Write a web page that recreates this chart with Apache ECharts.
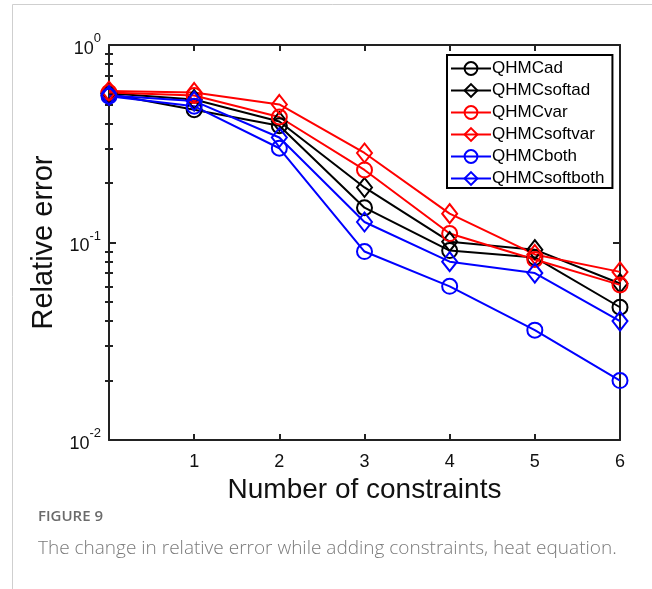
<!DOCTYPE html>
<html>
<head>
<meta charset="utf-8">
<title>Relative error vs constraints</title>
<script src="https://cdn.jsdelivr.net/npm/echarts@6/dist/echarts.min.js"></script>
<style>
  html, body { margin: 0; padding: 0; background: #fff; }
  #chart { width: 652px; height: 589px; }
</style>
</head>
<body>
<div id="chart"></div>
<script>
// Number of constraints on the x axis
const constraints = [0, 1, 2, 3, 4, 5, 6];

// Relative error for each method
const qhmcAd       = [0.565, 0.47, 0.39, 0.150, 0.091, 0.084, 0.047];
const qhmcSoftAd   = [0.570, 0.53, 0.41, 0.190, 0.101, 0.092, 0.062];
const qhmcVar      = [0.575, 0.555, 0.432, 0.233, 0.111, 0.082, 0.061];
const qhmcSoftVar  = [0.585, 0.575, 0.50, 0.284, 0.140, 0.087, 0.071];
const qhmcBoth     = [0.550, 0.49, 0.30, 0.090, 0.060, 0.036, 0.020];
const qhmcSoftBoth = [0.555, 0.52, 0.34, 0.127, 0.080, 0.070, 0.040];

const seriesNames = ['QHMCad', 'QHMCsoftad', 'QHMCvar', 'QHMCsoftvar', 'QHMCboth', 'QHMCsoftboth'];
const seriesData = [qhmcAd, qhmcSoftAd, qhmcVar, qhmcSoftVar, qhmcBoth, qhmcSoftBoth];
const seriesColors = ['#000000', '#000000', '#ff0000', '#ff0000', '#0000ff', '#0000ff'];
const seriesSymbols = ['circle', 'diamond', 'circle', 'diamond', 'circle', 'diamond'];

// Log axis tick positions
const majorTicks = [0.01, 0.1, 1];
const minorTicks = [0.02, 0.03, 0.04, 0.05, 0.06, 0.07, 0.08, 0.09,
                    0.2, 0.3, 0.4, 0.5, 0.6, 0.7, 0.8, 0.9];
const xTicks = [1, 2, 3, 4, 5, 6];

const AX = '#222222';
const FONT = '"Liberation Sans", Arial, Helvetica, sans-serif';

const chart = echarts.init(document.getElementById('chart'), null, { renderer: 'canvas' });

function logAxis(opts) {
  return Object.assign({
    type: 'log',
    logBase: 10,
    min: 0.01,
    max: 1,
    splitLine: { show: false },
    axisLine: { show: false },
    axisLabel: { show: false },
    axisTick: { show: false }
  }, opts);
}

const series = seriesNames.map((name, i) => ({
  name: name,
  type: 'line',
  data: constraints.map((c, j) => [c, seriesData[i][j]]),
  symbol: seriesSymbols[i],
  symbolSize: seriesSymbols[i] === 'circle' ? 15 : [15, 19],
  showSymbol: true,
  color: seriesColors[i],
  lineStyle: { color: seriesColors[i], width: 2 },
  itemStyle: { color: 'rgba(255,255,255,0)', borderColor: seriesColors[i], borderWidth: 2 },
  emphasis: { disabled: true },
  z: 3
}));

chart.setOption({
  animation: false,
  backgroundColor: '#ffffff',
  textStyle: { fontFamily: FONT },
  grid: {
    left: 109, right: 32, top: 45, bottom: 149,
    containLabel: false,
    outerBoundsMode: 'none'
  },
  legend: {
    orient: 'vertical',
    left: 447,
    top: 55,
    width: 165,
    padding: [5, 8, 1, 3],
    itemWidth: 40,
    itemHeight: 16,
    itemGap: 5,
    backgroundColor: '#ffffff',
    borderColor: '#000000',
    borderWidth: 2,
    textStyle: { fontSize: 17, lineHeight: 16, color: '#000000', fontFamily: FONT, padding: [0, 0, 0, -4] },
    data: seriesNames
  },
  xAxis: [
    {
      type: 'value',
      position: 'bottom',
      min: 0, max: 6, interval: 1,
      name: 'Number of constraints',
      nameLocation: 'middle',
      nameGap: 36,
      nameTextStyle: { fontSize: 28, color: '#111', fontFamily: FONT },
      axisLine: { show: true, onZero: false, lineStyle: { color: AX, width: 2 } },
      axisTick: { show: true, inside: true, length: 6, lineStyle: { color: AX, width: 2 },
                  customValues: xTicks },
      axisLabel: { show: true, fontSize: 18, color: '#111', margin: 13,
                   customValues: xTicks },
      splitLine: { show: false }
    },
    {
      type: 'value',
      position: 'top',
      min: 0, max: 6, interval: 1,
      axisLine: { show: true, onZero: false, lineStyle: { color: AX, width: 2 } },
      axisTick: { show: true, inside: true, length: 6, lineStyle: { color: AX, width: 2 },
                  customValues: xTicks },
      axisLabel: { show: false },
      splitLine: { show: false }
    }
  ],
  yAxis: [
    logAxis({
      position: 'left',
      name: 'Relative error',
      nameLocation: 'middle',
      nameGap: 37,
      nameRotate: 90,
      nameTextStyle: { fontSize: 29, color: '#111', fontFamily: FONT },
      axisLine: { show: true, onZero: false, lineStyle: { color: AX, width: 2 } },
      axisTick: { show: true, inside: true, length: 7, lineStyle: { color: AX, width: 2 },
                  customValues: majorTicks },
      axisLabel: {
        show: true,
        margin: 8,
        customValues: majorTicks,
        formatter: function (v) {
          const e = Math.round(Math.log10(v));
          return '{b|10}{s|' + e + '}';
        },
        rich: {
          b: { fontSize: 18, color: '#111', fontFamily: FONT, padding: [8, 0, 0, 0] },
          s: { fontSize: 13, color: '#111', fontFamily: FONT, verticalAlign: 'top' }
        }
      }
    }),
    logAxis({
      position: 'left',
      axisTick: { show: true, inside: true, length: 4, lineStyle: { color: AX, width: 2 },
                  customValues: minorTicks }
    }),
    logAxis({
      position: 'right',
      axisLine: { show: true, onZero: false, lineStyle: { color: AX, width: 2 } },
      axisTick: { show: true, inside: true, length: 7, lineStyle: { color: AX, width: 2 },
                  customValues: majorTicks }
    }),
    logAxis({
      position: 'right',
      axisTick: { show: true, inside: true, length: 4, lineStyle: { color: AX, width: 2 },
                  customValues: minorTicks }
    })
  ],
  graphic: [
    { type: 'line', silent: true, shape: { x1: 12.5, y1: 4.5, x2: 652, y2: 4.5 },
      style: { stroke: '#cfcfcf', lineWidth: 1 } },
    { type: 'line', silent: true, shape: { x1: 12.5, y1: 4.5, x2: 12.5, y2: 589 },
      style: { stroke: '#cfcfcf', lineWidth: 1 } },
    { type: 'text', silent: true, left: 38, top: 509,
      style: { text: 'FIGURE 9', fill: '#6b6b6b', font: '600 15px "Open Sans", sans-serif' } },
    { type: 'text', silent: true, left: 38, top: 539,
      style: { text: 'The change in relative error while adding constraints, heat equation.',
               fill: '#7a7a7a', font: '300 19px "Open Sans", sans-serif' } }
  ],
  series: series
});
</script>
</body>
</html>
